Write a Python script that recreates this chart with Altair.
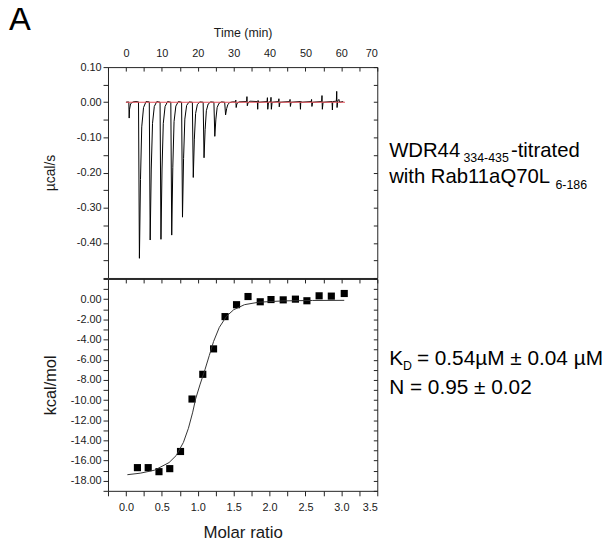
import altair as alt
import pandas as pd

FONT = "Liberation Sans"

# ---------------- data ----------------
# raw thermogram: (time in min, power in µcal/s)
trace_points = [
    (0.0, 0.0), (0.7, 0.001), (0.8, 0.0), (0.9, -0.045), (1.0, -0.02), (1.3, -0.004), (2.0, 0.001), (2.8, 0.002),
    (3.5, 0.001), (3.75, -0.444), (4.05, -0.22), (4.4, -0.07), (4.9, -0.015), (5.6, 0.002),
    (6.5, 0.001), (6.75, -0.392), (7.05, -0.19), (7.4, -0.06), (7.9, -0.012), (8.6, 0.002),
    (9.5, 0.0), (9.75, -0.390), (10.05, -0.19), (10.4, -0.06), (10.9, -0.012), (11.6, 0.002),
    (12.5, 0.0), (12.75, -0.378), (13.05, -0.185), (13.4, -0.055), (13.9, -0.011), (14.6, 0.002),
    (15.5, 0.0), (15.75, -0.327), (16.05, -0.16), (16.4, -0.048), (16.9, -0.009), (17.6, 0.001),
    (18.5, 0.0), (18.75, -0.214), (19.05, -0.105), (19.4, -0.032), (19.9, -0.006), (20.6, 0.001),
    (21.5, 0.0), (21.75, -0.158), (22.05, -0.078), (22.4, -0.024), (22.9, -0.005), (23.6, 0.001),
    (24.5, 0.0), (24.75, -0.097), (25.05, -0.048), (25.4, -0.015), (25.9, -0.003), (26.6, 0.001),
    (27.5, 0.0), (27.75, -0.036), (28.05, -0.018), (28.4, -0.006), (28.9, -0.001), (29.6, 0.001),
    (30.5, 0.001), (30.6, 0.006), (30.7, -0.015), (30.9, -0.004), (31.5, 0.001), (33.5, 0.002),
    (33.6, 0.002), (33.7, 0.016), (33.8, -0.01), (34.0, -0.002), (34.5, 0.003), (36.5, 0.002),
    (36.6, 0.002), (36.7, -0.02), (36.8, 0.005), (37.0, 0.0), (39.3, 0.002),
    (39.4, 0.013), (39.5, -0.02), (39.7, 0.0), (40.3, 0.002), (40.4, 0.014), (40.5, -0.02), (40.7, 0.0), (42.5, 0.002),
    (42.6, 0.01), (42.7, -0.013), (42.9, 0.0), (45.6, 0.002),
    (45.7, 0.008), (45.8, -0.012), (46.0, 0.0), (48.5, 0.002),
    (48.6, -0.02), (48.7, 0.003), (48.9, 0.0), (51.6, 0.002),
    (51.7, 0.008), (51.8, -0.012), (52.0, 0.0), (54.5, 0.002),
    (54.6, 0.019), (54.7, -0.02), (54.9, 0.0), (57.4, 0.002),
    (57.5, -0.022), (57.6, 0.002), (58.6, 0.003), (58.7, 0.031), (58.8, -0.015), (59.0, 0.004),
    (59.3, 0.008), (59.5, 0.0), (60.5, 0.002),
]
baseline_time = [0.0, 61.0]
baseline_power = [0.0, 0.0]

# integrated heats
molar_ratio = [0.16, 0.31, 0.46, 0.61, 0.76, 0.92, 1.07, 1.22, 1.38, 1.54,
               1.70, 1.87, 2.02, 2.19, 2.36, 2.52, 2.69, 2.86, 3.04]
heat_kcal = [-16.7, -16.7, -17.1, -16.8, -15.1, -9.9, -7.45, -4.93, -1.73, -0.55,
             0.26, -0.26, -0.04, -0.07, 0.0, -0.16, 0.33, 0.30, 0.56]

# fitted binding curve
fit_ratio = [0.02, 0.2, 0.4, 0.6, 0.7, 0.8, 0.87, 0.93, 0.97, 1.03, 1.10, 1.16,
             1.22, 1.30, 1.40, 1.50, 1.65, 1.85, 2.2, 2.6, 3.04]
fit_kcal = [-17.4, -17.25, -16.95, -16.2, -15.5, -14.2, -12.8, -11.2, -9.9, -8.5, -7.0, -5.6,
            -4.2, -2.8, -1.7, -1.05, -0.55, -0.3, -0.17, -0.13, -0.12]

# axis ticks
time_labels = [0, 10, 20, 30, 40, 50, 60, 70]
time_ticks = [-5, 0, 5, 10, 15, 20, 25, 30, 35, 40, 45, 50, 55, 60, 65, 70]
power_ticks = [0.1, 0.05, 0.0, -0.05, -0.1, -0.15, -0.2, -0.25, -0.3, -0.35, -0.4, -0.45, -0.5]
ratio_ticks = [-0.25, 0.0, 0.25, 0.5, 0.75, 1.0, 1.25, 1.5, 1.75, 2.0, 2.25, 2.5, 2.75, 3.0, 3.25, 3.5]
kcal_ticks = [2, 1, 0, -1, -2, -3, -4, -5, -6, -7, -8, -9, -10, -11, -12, -13, -14, -15, -16, -17, -18, -19]

# ---------------- tables ----------------
trace_df = pd.DataFrame({
    "t": [p[0] for p in trace_points],
    "p": [p[1] for p in trace_points],
    "i": list(range(len(trace_points))),
})
base_df = pd.DataFrame({"t": baseline_time, "p": baseline_power})
pts_df = pd.DataFrame({"r": molar_ratio, "h": heat_kcal})
fit_df = pd.DataFrame({"r": fit_ratio, "h": fit_kcal})
one = alt.Data(values=[{}])

W, H1, H2 = 272, 213, 214
INK = "#1a1a1a"

x_top = alt.Scale(domain=[-5, 70], nice=False, zero=False)
y_top = alt.Scale(domain=[-0.5, 0.1], nice=False, zero=False)
x_bot = alt.Scale(domain=[-0.25, 3.5], nice=False, zero=False)
y_bot = alt.Scale(domain=[-19, 2], nice=False, zero=False)

signed2 = "(datum.value < 0 ? '-' : '') + format(abs(datum.value), '.2f')"

# ---------------- top panel ----------------
trace = alt.Chart(trace_df).mark_line(color="black", strokeWidth=1).encode(
    x=alt.X("t:Q", scale=x_top, axis=alt.Axis(
        orient="top", title="Time (min)", values=time_labels, ticks=False, domain=False,
        labelPadding=9, titlePadding=8, labelFontSize=11, titleFontSize=12.5, format="d")),
    y=alt.Y("p:Q", scale=y_top, axis=alt.Axis(
        orient="left", title="µcal/s", values=power_ticks, domain=False, tickSize=5,
        labelPadding=2, labelFontSize=11, titleFontSize=14, titlePadding=19,
        labelExpr="abs(round(datum.value*20)) % 2 == 0 && datum.value > -0.45 ? " + signed2 + " : ''")),
    order="i:Q",
)
base_line = alt.Chart(base_df).mark_line(color="#e4505a", strokeWidth=1.2).encode(
    x=alt.X("t:Q", scale=x_top, axis=None),
    y=alt.Y("p:Q", scale=y_top, axis=None),
)
top_mirror = alt.Chart(base_df).mark_line(opacity=0).encode(
    x=alt.X("t:Q", scale=x_top, axis=alt.Axis(
        orient="bottom", offset=-H1, labels=False, domain=False, values=time_ticks,
        tickSize=4, title=None)),
    y=alt.Y("p:Q", scale=y_top, axis=alt.Axis(
        orient="left", offset=-W, labels=False, domain=False, values=power_ticks,
        tickSize=4, title=None)),
)

def label(txt, x, y, size):
    return alt.Chart(one).mark_text(
        text=txt, x=x, y=y, align="left", baseline="alphabetic",
        font=FONT, fontSize=size, color="black")

top_texts = [
    label("A", -100, -37, 33),
    label("WDR44", 284, 91, 20.5),
    label("334-435", 359, 96, 12.5),
    label("-titrated", 407, 91, 20.5),
    label("with Rab11aQ70L", 284, 117, 20.5),
    label("6-186", 452, 123, 12.5),
]

top = alt.layer(trace, base_line, top_mirror, *top_texts).resolve_axis(
    x="independent", y="independent").properties(width=W, height=H1)

# ---------------- bottom panel ----------------
squares = alt.Chart(pts_df).mark_square(size=52, color="black", opacity=1).encode(
    x=alt.X("r:Q", scale=x_bot, axis=alt.Axis(
        orient="bottom", title="Molar ratio", values=ratio_ticks, domain=False, tickSize=5,
        labelPadding=6, titlePadding=12, labelFontSize=11, titleFontSize=17,
        labelExpr="datum.value >= 0 && abs(round(datum.value*4)) % 2 == 0 ? format(datum.value, '.1f') : ''")),
    y=alt.Y("h:Q", scale=y_bot, axis=alt.Axis(
        orient="left", title="kcal/mol", values=kcal_ticks, domain=False, tickSize=5,
        labelPadding=2, labelFontSize=11, titleFontSize=16.5, titlePadding=12,
        labelExpr="datum.value <= 0 && datum.value >= -18 && datum.value % 2 == 0 ? " + signed2 + " : ''")),
)
fit = alt.Chart(fit_df).mark_line(color="#333333", strokeWidth=1).encode(
    x=alt.X("r:Q", scale=x_bot, axis=None),
    y=alt.Y("h:Q", scale=y_bot, axis=None),
)
bot_mirror = alt.Chart(fit_df).mark_line(opacity=0).encode(
    x=alt.X("r:Q", scale=x_bot, axis=alt.Axis(
        orient="bottom", offset=-H2, labels=False, domain=False, values=ratio_ticks,
        tickSize=4, title=None)),
    y=alt.Y("h:Q", scale=y_bot, axis=alt.Axis(
        orient="left", offset=-W, labels=False, domain=False, values=kcal_ticks,
        tickSize=4, title=None)),
)
bot_texts = [
    label("K", 284, 87, 21),
    label("D", 298, 92, 12.5),
    label("= 0.54µM ± 0.04 µM", 312, 87, 21),
    label("N = 0.95 ± 0.02", 284, 116, 21),
]

bottom = alt.layer(squares, fit, bot_mirror, *bot_texts).resolve_axis(
    x="independent", y="independent").properties(width=W, height=H2)

chart = alt.vconcat(top, bottom, spacing=-2).properties(
    padding={"top": -7, "left": 0, "right": 0, "bottom": 0}
).configure_view(
    stroke="#222222", strokeWidth=1
).configure_axis(
    labelFont=FONT, titleFont=FONT, labelColor=INK, titleColor=INK,
    tickColor="#222222", titleFontWeight="normal", grid=False
)

chart.save("out.html", embed_options={"renderer": "svg", "actions": False})
